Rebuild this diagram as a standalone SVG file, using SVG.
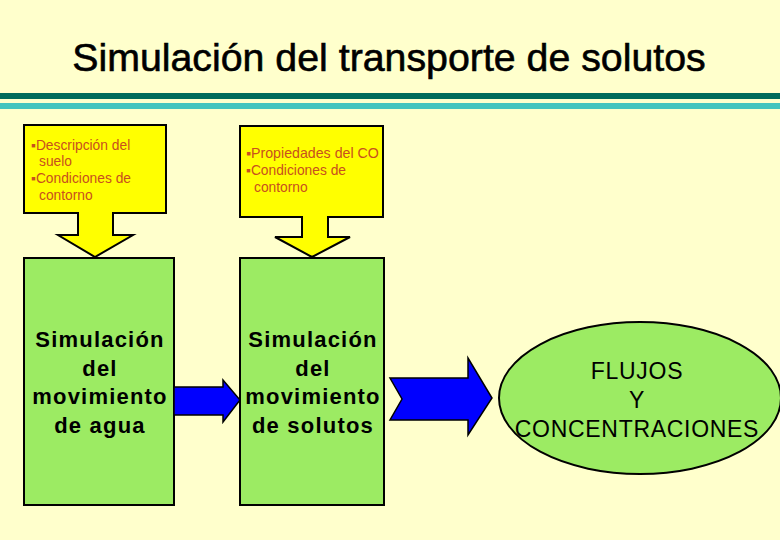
<svg xmlns="http://www.w3.org/2000/svg" width="780" height="540" viewBox="0 0 780 540">
<style>
.t{font-family:"Liberation Sans",Arial,sans-serif;fill:#000}
.title{font-size:39.3px;text-anchor:middle;stroke:#000;stroke-width:0.6px}
.call{fill:#FFFF00;stroke:#000;stroke-width:2}
.box{fill:#9CEB63;stroke:#000;stroke-width:2}
.bt{font-size:22px;font-weight:bold;text-anchor:middle;letter-spacing:1.2px}
.ct{font-family:"Liberation Sans",Arial,sans-serif;font-size:13.8px;fill:#C8501E}
.blue{fill:#0000FF;stroke:#000;stroke-width:1.5}
.et{font-size:23px;text-anchor:middle;letter-spacing:0.7px}
</style>
<rect width="780" height="540" fill="#FFFFCC"/>
<text class="t title" x="389" y="71">Simulación del transporte de solutos</text>
<rect x="0" y="93" width="780" height="6" fill="#006B5B"/>
<rect x="0" y="103" width="780" height="6" fill="#44C4BE"/>

<g id="callout1">
<path class="call" d="M24,125 H166 V213 H113 V235 H133 L95,257 L58,235 H78 V213 H24 Z"/>
<text class="ct" x="31" y="150">▪Descripción del</text>
<text class="ct" x="39" y="166">suelo</text>
<text class="ct" x="31" y="183">▪Condiciones de</text>
<text class="ct" x="39" y="200">contorno</text>
</g>
<g id="callout2">
<path class="call" d="M240,126 H383 V217 H328 V237 H350 L312,257 L275,237 H302 V217 H240 Z"/>
<text class="ct" x="246" y="158" style="font-size:14.2px">▪Propiedades del CO</text>
<text class="ct" x="246" y="175">▪Condiciones de</text>
<text class="ct" x="254" y="192">contorno</text>
</g>
<g id="agua">
<rect class="box" x="24" y="258" width="150" height="247"/>
<text class="t bt" x="100" y="347">Simulación</text>
<text class="t bt" x="100" y="376">del</text>
<text class="t bt" x="100" y="404">movimiento</text>
<text class="t bt" x="100" y="433">de agua</text>
</g>
<g id="solutos">
<rect class="box" x="240" y="258" width="144" height="247"/>
<text class="t bt" x="313" y="347">Simulación</text>
<text class="t bt" x="313" y="376">del</text>
<text class="t bt" x="313" y="404">movimiento</text>
<text class="t bt" x="313" y="433">de solutos</text>
</g>
<g id="flujos">
<ellipse class="box" cx="640" cy="398" rx="141" ry="76"/>
<text class="t et" x="637" y="379">FLUJOS</text>
<text class="t et" x="637" y="408">Y</text>
<text class="t et" x="637" y="437">CONCENTRACIONES</text>
</g>
<g id="connectors">
<path class="blue" d="M174,387 H223 V380 L240,400 L223,422 V415 H174 Z"/>
<path class="blue" d="M390,378 H468 V358 L492,398 L468,435 V420 H390 L402,399 Z"/>
</g>
</svg>
